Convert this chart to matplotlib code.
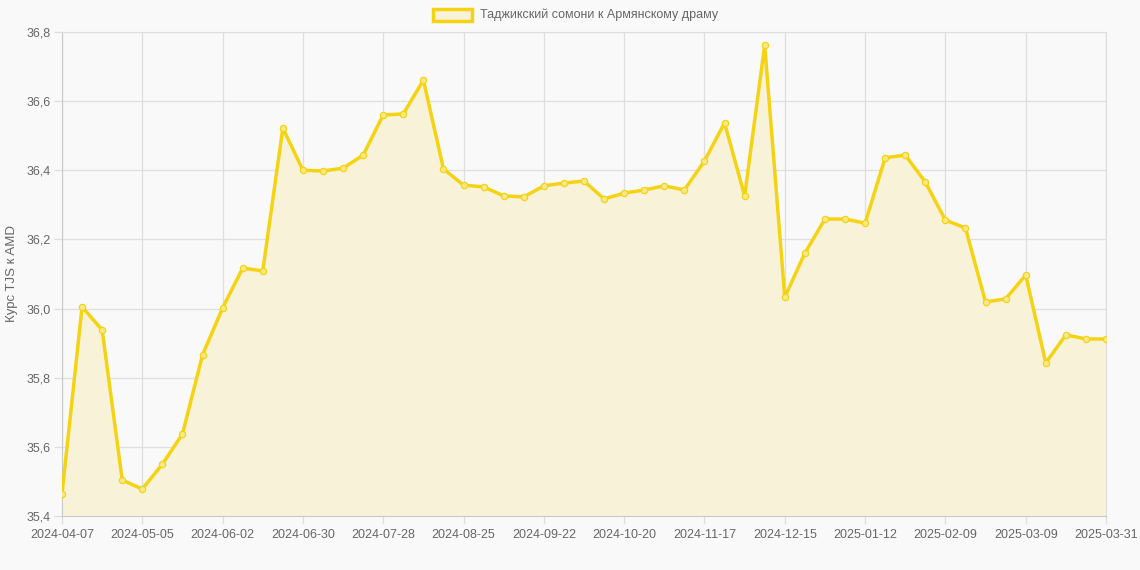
import numpy as np
import matplotlib.pyplot as plt
from matplotlib.patches import Rectangle
from matplotlib.ticker import FuncFormatter

plt.rcParams['font.family'] = ['Liberation Sans', 'DejaVu Sans']

# weekly dates (category axis, labels shown every 4th point)
tick_labels = ['2024-04-07', '2024-05-05', '2024-06-02', '2024-06-30', '2024-07-28',
               '2024-08-25', '2024-09-22', '2024-10-20', '2024-11-17', '2024-12-15',
               '2025-01-12', '2025-02-09', '2025-03-09', '2025-03-31']

rates = [35.464, 36.005, 35.938, 35.504, 35.478, 35.550, 35.637, 35.866, 36.002, 36.117,
         36.109, 36.522, 36.400, 36.398, 36.406, 36.444, 36.560, 36.563, 36.661, 36.404,
         36.357, 36.352, 36.326, 36.323, 36.355, 36.363, 36.369, 36.317, 36.334, 36.343,
         36.355, 36.343, 36.427, 36.537, 36.326, 36.762, 36.033, 36.160, 36.259, 36.259,
         36.247, 36.436, 36.444, 36.366, 36.256, 36.233, 36.019, 36.028, 36.097, 35.843,
         35.924, 35.912, 35.912]

series_name = 'Таджикский сомони к Армянскому драму'
y_title = 'Курс TJS к AMD'

line_color = '#f5d312'
fill_color = '#f8f3d8'
bg = '#f9f9f9'
grid_color = '#dedede'
text_color = '#666666'

x = np.arange(len(rates))

fig = plt.figure(figsize=(11.4, 5.7), dpi=100, facecolor=bg)
ax = fig.add_axes([62 / 1140, 54 / 570, 1044 / 1140, 484 / 570])
ax.set_facecolor(bg)

ax.fill_between(x, rates, 35.4, color=fill_color, zorder=1)
ax.plot(x, rates, color=line_color, linewidth=2.5, zorder=3,
        marker='o', markersize=4.5, markerfacecolor='#f7e98a',
        markeredgecolor=line_color, markeredgewidth=0.9)

ax.set_xlim(0, len(rates) - 1)
ax.set_ylim(35.4, 36.8)
ax.set_yticks(np.arange(35.4, 36.81, 0.2))
ax.yaxis.set_major_formatter(FuncFormatter(lambda v, p: f'{v:.1f}'.replace('.', ',')))

tick_pos = list(range(0, len(rates), 4))
ax.set_xticks(tick_pos)
ax.set_xticklabels(tick_labels)

ax.grid(True, color=grid_color, linewidth=0.9, zorder=0)
ax.set_axisbelow(True)
for side in ['top', 'right']:
    ax.spines[side].set_color(grid_color)
for side in ['left', 'bottom']:
    ax.spines[side].set_color('#c8c8c8')
ax.tick_params(axis='both', colors=grid_color, labelcolor=text_color,
               labelsize=9, length=6, width=0.9)
ax.tick_params(axis='x', pad=3)
ax.tick_params(axis='y', pad=2)

ax.set_ylabel(y_title, color=text_color, fontsize=9.5, labelpad=6)

# legend
fig.patches.append(Rectangle((433 / 1140, 1 - 21 / 570), 39 / 1140, 12 / 570,
                             transform=fig.transFigure, facecolor=fill_color,
                             edgecolor=line_color, linewidth=2.5))
fig.text(480 / 1140, 1 - 15 / 570, series_name, color=text_color, fontsize=9,
         va='center', ha='left')

fig.savefig('out.png', dpi=100, facecolor=bg)
